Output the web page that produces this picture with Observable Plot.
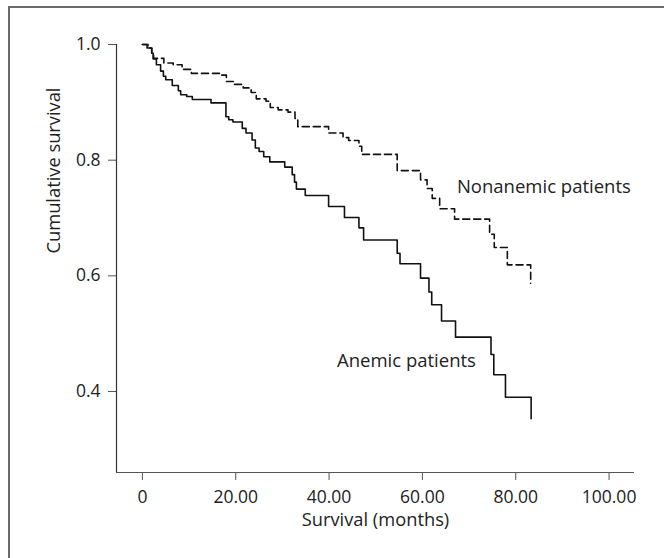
<!DOCTYPE html>
<html>
<head>
<meta charset="utf-8">
<script src="https://cdn.jsdelivr.net/npm/d3@7"></script>
<script src="https://cdn.jsdelivr.net/npm/@observablehq/plot@0.6"></script>
<style>
  html, body { margin: 0; padding: 0; background: #fff; overflow: hidden; }
  #wrap { position: relative; width: 664px; height: 558px; }
  #border { position: absolute; left: 8px; top: 6px; width: 700px; height: 600px;
            border-left: 2px solid #6a6a6a; border-top: 2px solid #6a6a6a; }
  #chart { position: absolute; left: 0; top: 0; }
</style>
</head>
<body>
<div id="wrap"><div id="border"></div><div id="chart"></div></div>
<script>
// Anemic patients (solid line): step times (months) and cumulative survival after each step
const anemicMonths = [0, 1.0, 2.0, 2.3, 3.0, 3.9, 4.5, 5.0, 6.4, 7.7, 8.2, 9.5, 10.7, 14.7, 17.9, 18.5, 19.4, 21.4, 22.2, 23.5, 24.2, 25.0, 26.0, 27.3, 30.5, 32.1, 32.6, 33.0, 34.9, 39.9, 43.3, 46.4, 47.4, 54.6, 55.2, 59.6, 61.4, 62.0, 64.1, 67.1, 74.7, 75.3, 77.8, 83.3];
const anemicSurvival = [1.0, 0.994, 0.985, 0.975, 0.965, 0.954, 0.945, 0.939, 0.929, 0.920, 0.913, 0.910, 0.905, 0.899, 0.875, 0.870, 0.866, 0.855, 0.847, 0.835, 0.821, 0.815, 0.806, 0.797, 0.788, 0.775, 0.762, 0.750, 0.739, 0.720, 0.701, 0.683, 0.662, 0.639, 0.621, 0.596, 0.572, 0.550, 0.522, 0.494, 0.464, 0.429, 0.390, 0.353];

// Nonanemic patients (dashed line)
const nonanemicMonths = [0, 1.2, 2.0, 2.4, 4.6, 6.6, 8.5, 10.5, 16.6, 18.0, 19.6, 21.6, 23.3, 24.4, 26.5, 27.4, 29.1, 31.2, 32.7, 33.3, 39.9, 43.0, 44.2, 46.4, 47.0, 54.6, 59.6, 61.0, 62.1, 63.7, 66.9, 74.4, 75.4, 78.2, 83.2];
const nonanemicSurvival = [1.0, 0.994, 0.985, 0.976, 0.968, 0.965, 0.957, 0.950, 0.947, 0.936, 0.931, 0.925, 0.917, 0.906, 0.902, 0.891, 0.887, 0.883, 0.872, 0.858, 0.847, 0.839, 0.834, 0.824, 0.810, 0.782, 0.766, 0.751, 0.734, 0.716, 0.698, 0.672, 0.649, 0.619, 0.587];

const xTicks = [0, 20, 40, 60, 80, 100];
const yTicks = [0.4, 0.6, 0.8, 1.0];
const seriesLabels = ["Nonanemic patients", "Anemic patients"];
const labelMonths = [67.4, 41.7];
const labelSurvival = [0.7527, 0.4518];

const anemic = anemicMonths.map((m, i) => ({month: m, s: anemicSurvival[i]}));
const nonanemic = nonanemicMonths.map((m, i) => ({month: m, s: nonanemicSurvival[i]}));
const labels = seriesLabels.map((t, i) => ({t, month: labelMonths[i], s: labelSurvival[i]}));

const xMin = -5.55, xMax = 105.45, yMin = 0.26, yMax = 1.0;
const ink = "#222";

const chart = Plot.plot({
  width: 664,
  height: 558,
  marginLeft: 116,
  marginRight: 30,
  marginTop: 44,
  marginBottom: 86,
  style: {fontFamily: "'Open Sans', sans-serif", fontSize: "17px", color: ink, background: "transparent"},
  x: {domain: [xMin, xMax]},
  y: {domain: [yMin, yMax]},
  marks: [
    Plot.axisX({ticks: xTicks, tickFormat: d => d === 0 ? "0" : d.toFixed(2), tickSize: 8, tickPadding: 10, label: null, stroke: "#555", fill: ink, fontSize: 17.5}),
    Plot.axisY({ticks: yTicks, tickFormat: d3.format(".1f"), tickSize: 8, tickPadding: 8, label: null, stroke: "#555", fill: ink, fontSize: 17.5}),
    Plot.ruleX([xMin], {y1: yMin, y2: yMax, stroke: "#333", strokeWidth: 1.2}),
    Plot.ruleY([yMin], {x1: xMin, x2: xMax, stroke: "#555", strokeWidth: 1.2}),
    Plot.line(nonanemic, {x: "month", y: "s", curve: "step-after", stroke: "#111", strokeWidth: 1.6, strokeDasharray: "7,4"}),
    Plot.line(anemic, {x: "month", y: "s", curve: "step-after", stroke: "#111", strokeWidth: 1.6}),
    Plot.text(labels, {x: "month", y: "s", text: "t", textAnchor: "start", lineAnchor: "middle", fill: ink, fontSize: 18.5}),
    Plot.text(["Survival (months)"], {frameAnchor: "bottom", dy: 48, lineAnchor: "middle", fill: ink, fontSize: 18.3}),
    Plot.text(["Cumulative survival"], {frameAnchor: "left", dx: -62, dy: -5, rotate: -90, lineAnchor: "middle", fill: ink, fontSize: 18.3})
  ]
});
document.getElementById("chart").appendChild(chart);
</script>
</body>
</html>
